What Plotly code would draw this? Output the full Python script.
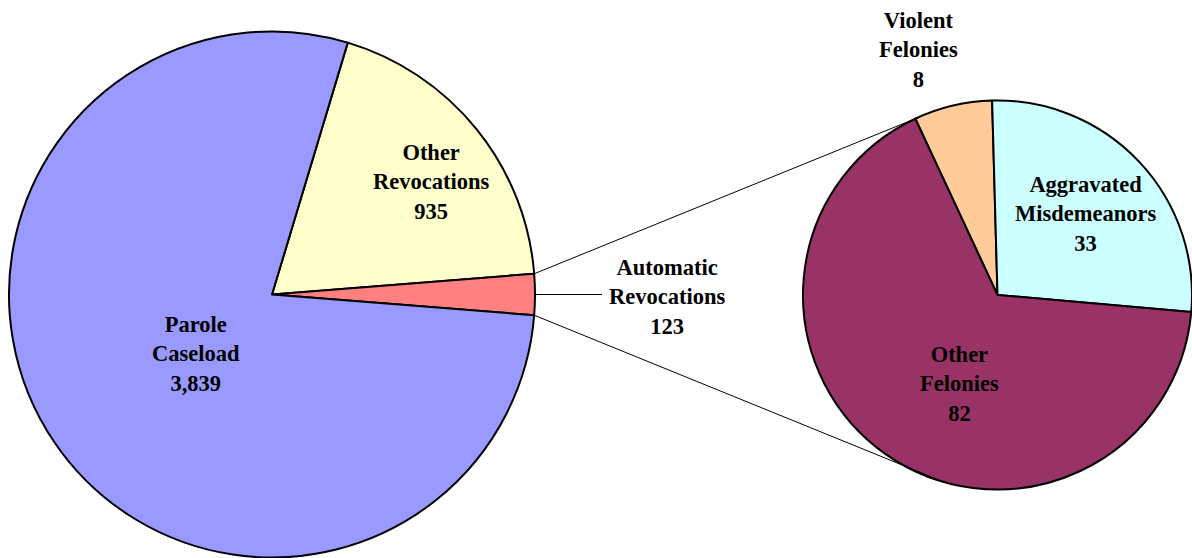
"""
    Pie of pie: parole caseload and revocations
"""

import math

import plotly.graph_objs as go

W, H = 1192, 558

# main pie
main_labels = ["Other Revocations", "Automatic Revocations", "Parole Caseload"]
main_values = [935, 123, 3839]
main_colors = ["#FFFFCC", "#FF8080", "#9999FF"]

# breakdown of automatic revocations
sub_labels = ["Violent Felonies", "Aggravated Misdemeanors", "Other Felonies"]
sub_values = [8, 33, 82]
sub_colors = ["#FFCC99", "#CCFFFF", "#993366"]

FONT = dict(family="Liberation Serif, Times New Roman, serif", size=22.5, color="black")

# pixel geometry of the two circles
L_CX, L_CY, L_R = 272, 294.5, 263
R_X0, R_CY, R_HALF = 803, 295, 198
R_R = (W - R_X0) / 2
R_CX = R_X0 + R_R


def px(x):
    return x / W


def py(y):
    return 1 - y / H


def on_circle(cx, cy, r, angle_deg):
    a = math.radians(angle_deg)
    return cx + r * math.cos(a), cy - r * math.sin(a)


total = sum(main_values)
auto_half = main_values[1] / total * 180
main_start = auto_half + main_values[0] / total * 360
main_rotation = 90 - main_start

sub_total = sum(sub_values)
sub_end = -5
sub_start = sub_end + (sub_values[0] + sub_values[1]) / sub_total * 360
sub_rotation = 90 - sub_start

line_style = dict(color="black", width=2)

data = [
    go.Pie(labels=main_labels, values=main_values, sort=False, direction="clockwise",
           rotation=main_rotation, textinfo="none", showlegend=False,
           marker=dict(colors=main_colors, line=line_style),
           domain=dict(x=[px(L_CX - L_R), px(L_CX + L_R)],
                       y=[py(L_CY + L_R), py(L_CY - L_R)])),
    go.Pie(labels=sub_labels, values=sub_values, sort=False, direction="clockwise",
           rotation=sub_rotation, textinfo="none", showlegend=False,
           marker=dict(colors=sub_colors, line=line_style),
           domain=dict(x=[px(R_X0), 1],
                       y=[py(R_CY + R_HALF), py(R_CY - R_HALF)])),
]

# connector lines
shapes = []
ends = [(auto_half, sub_start), (-auto_half, -106)]
for a_left, a_right in ends:
    x0, y0 = on_circle(L_CX, L_CY, L_R, a_left)
    x1, y1 = on_circle(R_CX, R_CY, R_R, a_right)
    shapes.append(dict(type="line", xref="paper", yref="paper",
                       x0=px(x0), y0=py(y0), x1=px(x1), y1=py(y1),
                       line=dict(color="black", width=1)))
x0, y0 = on_circle(L_CX, L_CY, L_R, 0)
shapes.append(dict(type="line", xref="paper", yref="paper",
                   x0=px(x0), y0=py(y0), x1=px(602), y1=py(y0),
                   line=dict(color="black", width=1)))

# labels: (text, centre x, centre y of middle line)
label_texts = [
    "Other<br>Revocations<br>935",
    "Parole<br>Caseload<br>3,839",
    "Automatic<br>Revocations<br>123",
    "Violent<br>Felonies<br>8",
    "Aggravated<br>Misdemeanors<br>33",
    "Other<br>Felonies<br>82",
]
label_pos = [(431, 182), (196, 354), (667, 297), (918, 50), (1085, 214), (960, 384)]

annotations = [dict(text="<b>{}</b>".format(t), x=px(x), y=py(y), xref="paper", yref="paper",
                    xanchor="center", yanchor="middle", showarrow=False, font=FONT)
               for t, (x, y) in zip(label_texts, label_pos)]

layout = go.Layout(width=W, height=H, margin=dict(l=0, r=0, t=0, b=0),
                   paper_bgcolor="white", plot_bgcolor="white",
                   shapes=shapes, annotations=annotations)

fig = go.Figure(data=data, layout=layout)
fig.write_html("out.html", config={"displayModeBar": False},
               post_script="document.body.style.margin = '0';")
